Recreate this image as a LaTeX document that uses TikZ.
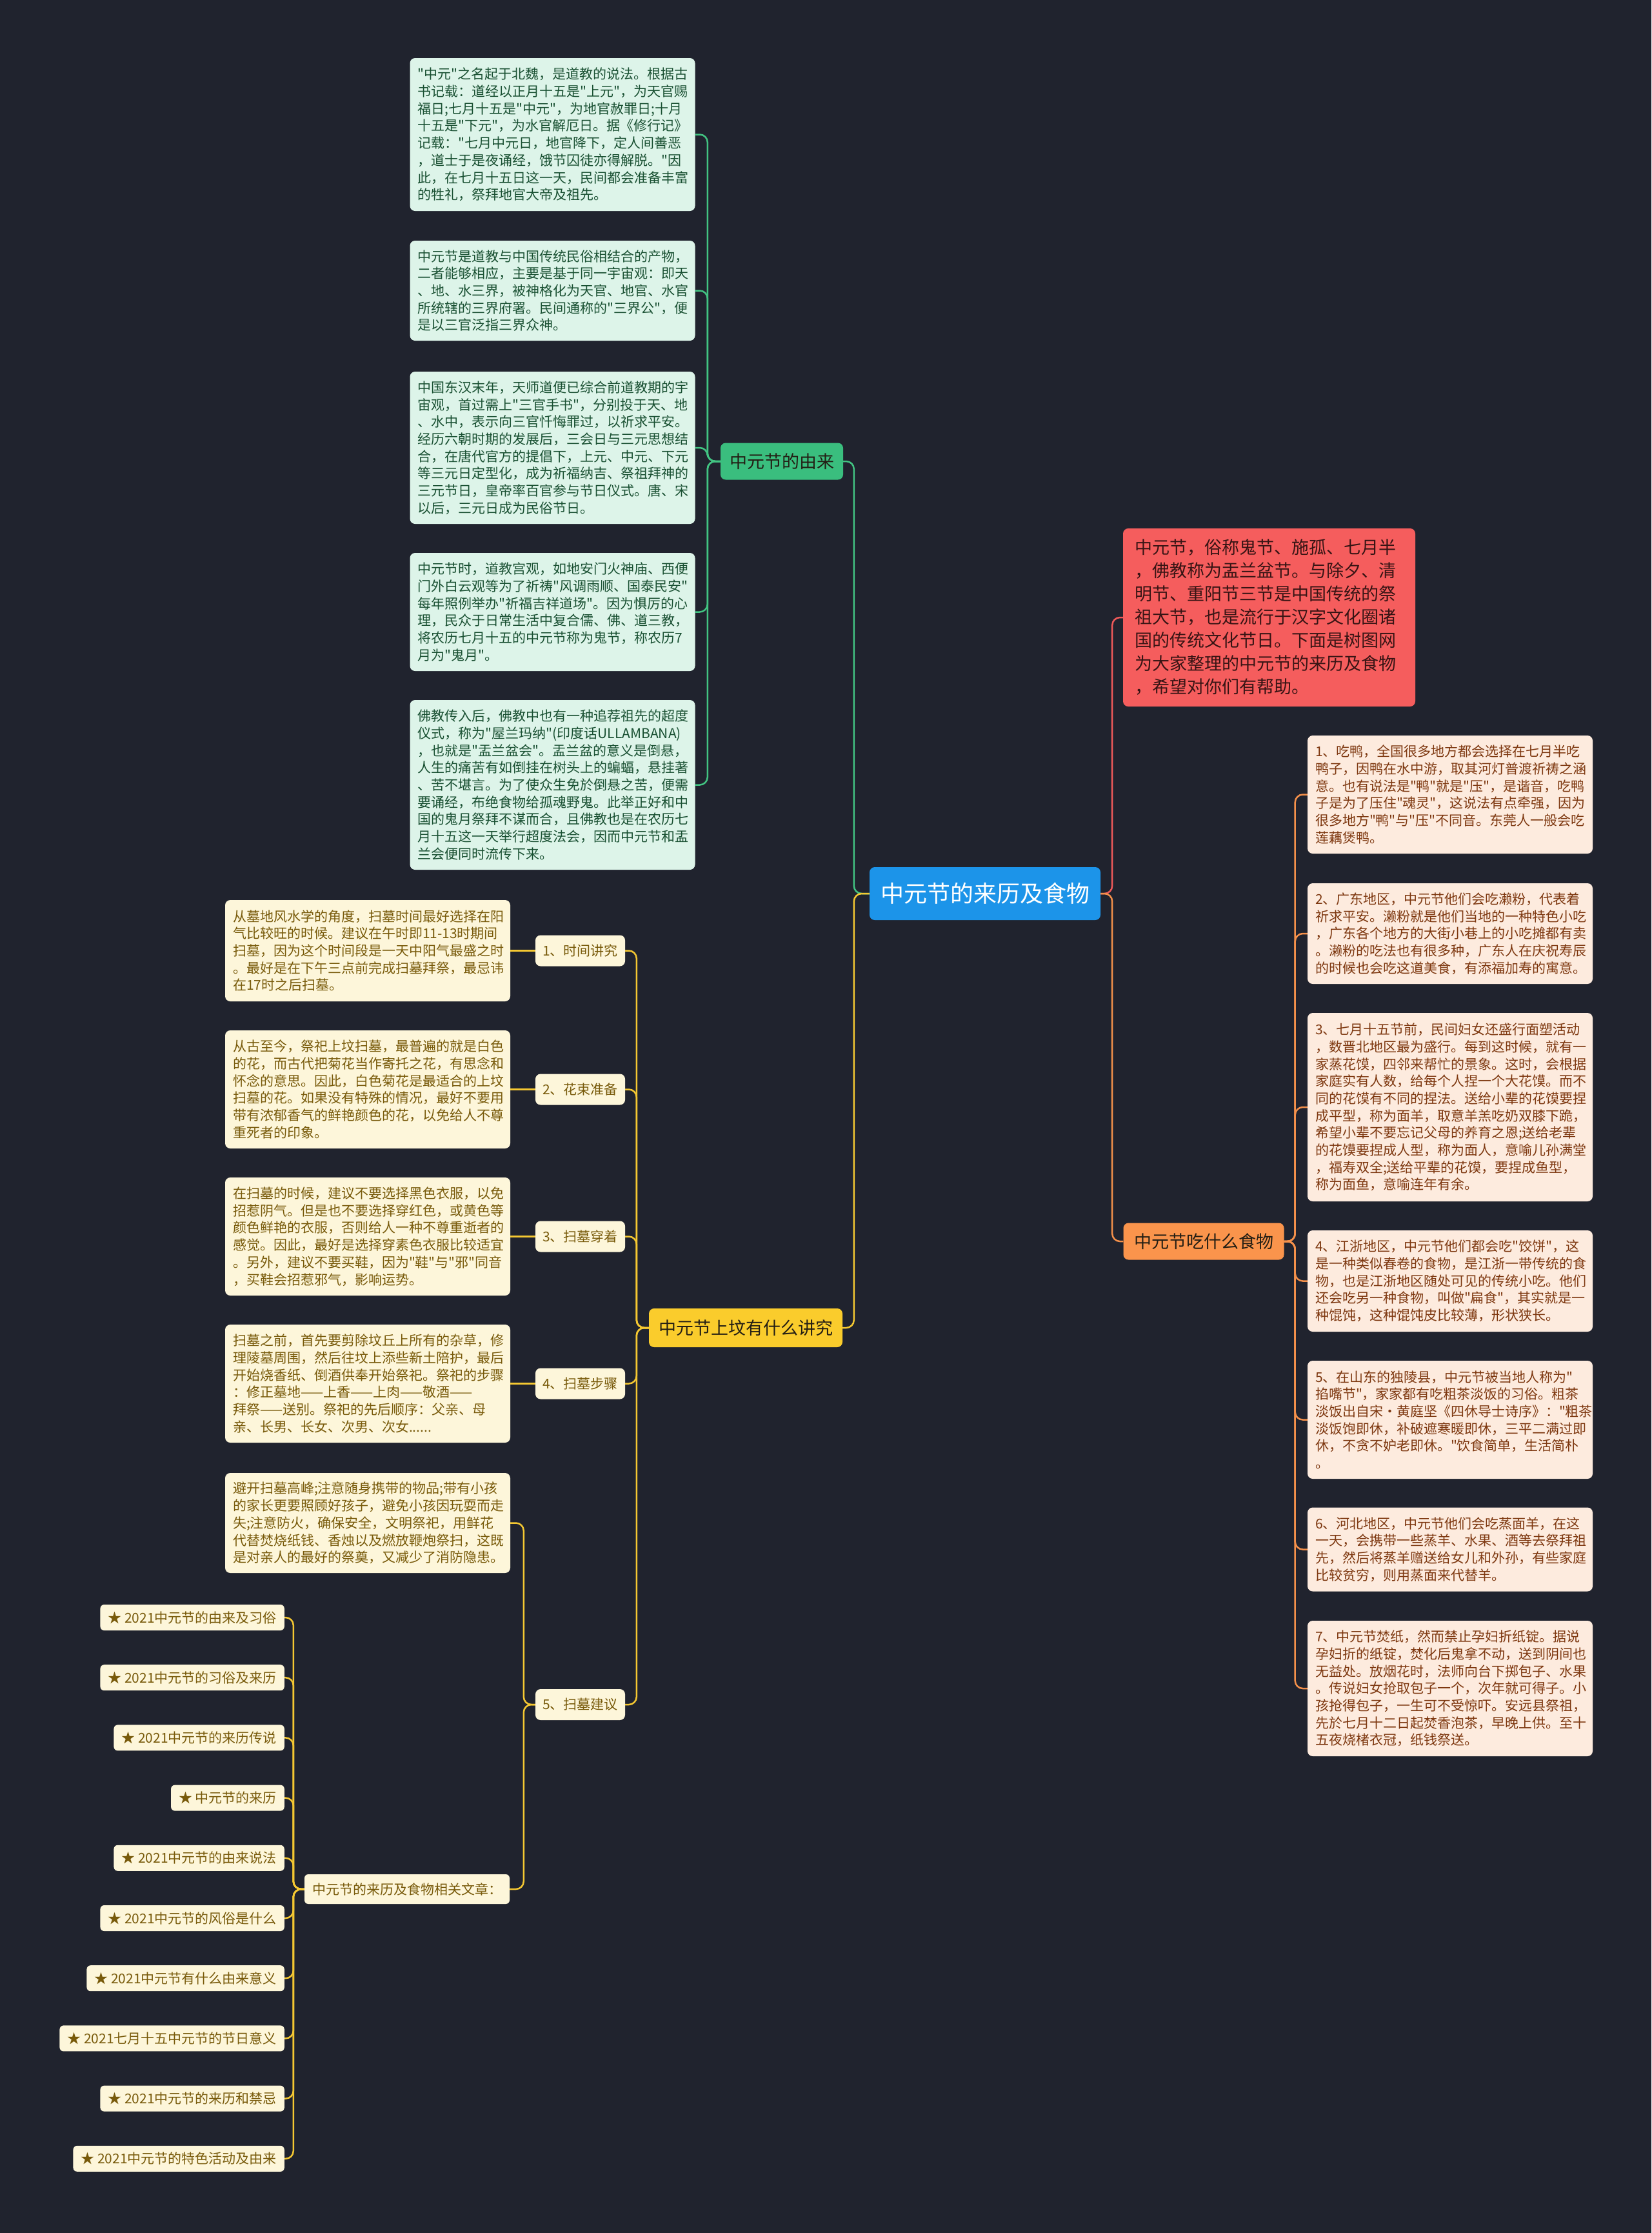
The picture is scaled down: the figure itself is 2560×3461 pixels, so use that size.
\documentclass[tikz,border=0pt]{standalone}
\usepackage{fontspec}
\setmainfont{Noto Sans CJK SC}[Ligatures=TeXOff]
\definecolor{bg}{RGB}{32,35,46}
\definecolor{rootfill}{RGB}{28,148,233}
\definecolor{gfill}{RGB}{58,190,126}
\definecolor{gconnc}{RGB}{66,196,130}
\definecolor{gleaffill}{RGB}{221,244,233}
\definecolor{gtext}{RGB}{25,80,50}
\definecolor{yfill}{RGB}{250,204,44}
\definecolor{yconnc}{RGB}{245,200,50}
\definecolor{yleaffill}{RGB}{253,246,218}
\definecolor{ytext}{RGB}{120,90,10}
\definecolor{rfill}{RGB}{245,93,93}
\definecolor{rconnc}{RGB}{240,90,90}
\definecolor{rtext}{RGB}{55,20,20}
\definecolor{ofill}{RGB}{250,148,76}
\definecolor{oconnc}{RGB}{245,145,75}
\definecolor{oleaffill}{RGB}{253,235,222}
\definecolor{otext}{RGB}{125,55,15}
\definecolor{darktext}{RGB}{35,30,20}
\tikzset{
  leafbase/.style={rounded corners=8pt, inner xsep=12pt, inner ysep=0pt, align=left, text width=418pt, font=\fontsize{21}{26.7}\selectfont},
  gleaf/.style={leafbase, fill=gleaffill, text=gtext},
  yleaf/.style={leafbase, fill=yleaffill, text=ytext},
  oleaf/.style={leafbase, fill=oleaffill, text=otext},
  branchbox/.style={rounded corners=8pt, inner sep=0pt, font=\fontsize{27}{32}\selectfont, text=darktext},
  ylabel/.style={rounded corners=8pt, fill=yleaffill, text=ytext, inner sep=0pt, minimum width=139pt, minimum height=48pt, font=\fontsize{21}{26.7}\selectfont},
  staritem/.style={rounded corners=6pt, fill=yleaffill, text=ytext, inner xsep=12pt, inner ysep=0pt, minimum height=40pt, anchor=east, font=\fontsize{21}{26.7}\selectfont},
  conn/.style={line width=2.5pt, rounded corners=12pt},
  gconn/.style={conn, draw=gconnc},
  yconn/.style={conn, draw=yconnc},
  rconn/.style={conn, draw=rconnc},
  oconn/.style={conn, draw=oconnc}
}
\begin{document}
\begin{tikzpicture}[x=1pt,y=-1pt]
\fill[bg] (0,0) rectangle (2560,3461);
\useasboundingbox (0,0) rectangle (2560,3461);

% root
\node[rounded corners=8pt, fill=rootfill, text=white, inner sep=0pt, minimum width=358pt, minimum height=82pt, font=\fontsize{36}{40}\selectfont] (root) at (1527,1385) {中元节的来历及食物};

% main branches
\node[branchbox, fill=gfill, minimum width=190pt, minimum height=57pt] (gb) at (1212,715) {中元节的由来};
\node[branchbox, fill=yfill, minimum width=300pt, minimum height=60pt] (yb) at (1156,2058) {中元节上坟有什么讲究};
\node[branchbox, fill=rfill, text=rtext, inner xsep=18pt, inner ysep=0pt, minimum height=276pt, text width=417pt, align=left, font=\fontsize{27}{36}\selectfont] (rb) at (1967.5,957) {中元节，俗称鬼节、施孤、七月半\\，佛教称为盂兰盆节。与除夕、清\\明节、重阳节三节是中国传统的祭\\祖大节，也是流行于汉字文化圈诸\\国的传统文化节日。下面是树图网\\为大家整理的中元节的来历及食物\\，希望对你们有帮助。};
\node[branchbox, fill=ofill, minimum width=249pt, minimum height=57pt] (ob) at (1866,1924) {中元节吃什么食物};

% green leaves
\node[gleaf, minimum height=237pt] (g1) at (856.5,208.5) {"中元"之名起于北魏，是道教的说法。根据古\\书记载：道经以正月十五是"上元"，为天官赐\\福日;七月十五是"中元"，为地官赦罪日;十月\\十五是"下元"，为水官解厄日。据《修行记》\\记载："七月中元日，地官降下，定人间善恶\\，道士于是夜诵经，饿节囚徒亦得解脱。"因\\此，在七月十五日这一天，民间都会准备丰富\\的牲礼，祭拜地官大帝及祖先。};
\node[gleaf, minimum height=155pt] (g2) at (856.5,450.5) {中元节是道教与中国传统民俗相结合的产物，\\二者能够相应，主要是基于同一宇宙观：即天\\、地、水三界，被神格化为天官、地官、水官\\所统辖的三界府署。民间通称的"三界公"，便\\是以三官泛指三界众神。};
\node[gleaf, minimum height=236pt] (g3) at (856.5,694) {中国东汉末年，天师道便已综合前道教期的宇\\宙观，首过需上"三官手书"，分别投于天、地\\、水中，表示向三官忏悔罪过，以祈求平安。\\经历六朝时期的发展后，三会日与三元思想结\\合，在唐代官方的提倡下，上元、中元、下元\\等三元日定型化，成为祈福纳吉、祭祖拜神的\\三元节日，皇帝率百官参与节日仪式。唐、宋\\以后，三元日成为民俗节日。};
\node[gleaf, minimum height=183pt] (g4) at (856.5,948.5) {中元节时，道教宫观，如地安门火神庙、西便\\门外白云观等为了祈祷"风调雨顺、国泰民安"\\每年照例举办"祈福吉祥道场"。因为惧厉的心\\理，民众于日常生活中复合儒、佛、道三教，\\将农历七月十五的中元节称为鬼节，称农历7\\月为"鬼月"。};
\node[gleaf, minimum height=263pt] (g5) at (856.5,1216.5) {佛教传入后，佛教中也有一种追荐祖先的超度\\仪式，称为"屋兰玛纳"(印度话ULLAMBANA)\\，也就是"盂兰盆会"。盂兰盆的意义是倒悬，\\人生的痛苦有如倒挂在树头上的蝙蝠，悬挂著\\、苦不堪言。为了使众生免於倒悬之苦，便需\\要诵经，布绝食物给孤魂野鬼。此举正好和中\\国的鬼月祭拜不谋而合，且佛教也是在农历七\\月十五这一天举行超度法会，因而中元节和盂\\兰会便同时流传下来。};

% yellow labels
\node[ylabel] (l1) at (899.5,1473.5) {1、时间讲究};
\node[ylabel] (l2) at (899.5,1688.5) {2、花束准备};
\node[ylabel] (l3) at (899.5,1916.5) {3、扫墓穿着};
\node[ylabel] (l4) at (899.5,2144.5) {4、扫墓步骤};
\node[ylabel] (l5) at (899.5,2642) {5、扫墓建议};

% yellow leaves
\node[yleaf, minimum height=157pt] (y1) at (570,1473.5) {从墓地风水学的角度，扫墓时间最好选择在阳\\气比较旺的时候。建议在午时即11-13时期间\\扫墓，因为这个时间段是一天中阳气最盛之时\\。最好是在下午三点前完成扫墓拜祭，最忌讳\\在17时之后扫墓。};
\node[yleaf, minimum height=183pt] (y2) at (570,1688.5) {从古至今，祭祀上坟扫墓，最普遍的就是白色\\的花，而古代把菊花当作寄托之花，有思念和\\怀念的意思。因此，白色菊花是最适合的上坟\\扫墓的花。如果没有特殊的情况，最好不要用\\带有浓郁香气的鲜艳颜色的花，以免给人不尊\\重死者的印象。};
\node[yleaf, minimum height=183pt] (y3) at (570,1916.5) {在扫墓的时候，建议不要选择黑色衣服，以免\\招惹阴气。但是也不要选择穿红色，或黄色等\\颜色鲜艳的衣服，否则给人一种不尊重逝者的\\感觉。因此，最好是选择穿素色衣服比较适宜\\。另外，建议不要买鞋，因为"鞋"与"邪"同音\\，买鞋会招惹邪气，影响运势。};
\node[yleaf, minimum height=183pt] (y4) at (570,2144.5) {扫墓之前，首先要剪除坟丘上所有的杂草，修\\理陵墓周围，然后往坟上添些新土陪护，最后\\开始烧香纸、倒酒供奉开始祭祀。祭祀的步骤\\：修正墓地——上香——上肉——敬酒——\\拜祭——送别。祭祀的先后顺序：父亲、母\\亲、长男、长女、次男、次女......};
\node[yleaf, minimum height=155pt] (y5) at (570,2360.5) {避开扫墓高峰;注意随身携带的物品;带有小孩\\的家长更要照顾好孩子，避免小孩因玩耍而走\\失;注意防火，确保安全，文明祭祀，用鲜花\\代替焚烧纸钱、香烛以及燃放鞭炮祭扫，这既\\是对亲人的最好的祭奠，又减少了消防隐患。};

% related articles
\node[rounded corners=6pt, fill=yleaffill, text=ytext, inner sep=0pt, minimum width=318pt, minimum height=46pt, font=\fontsize{21}{26.7}\selectfont] (rel) at (631,2928) {中元节的来历及食物相关文章：};
\node[staritem] (s1) at (441,2507) {★ 2021中元节的由来及习俗};
\node[staritem] (s2) at (441,2600.2) {★ 2021中元节的习俗及来历};
\node[staritem] (s3) at (441,2693.4) {★ 2021中元节的来历传说};
\node[staritem] (s4) at (441,2786.6) {★ 中元节的来历};
\node[staritem] (s5) at (441,2879.8) {★ 2021中元节的由来说法};
\node[staritem] (s6) at (441,2973) {★ 2021中元节的风俗是什么};
\node[staritem] (s7) at (441,3066.2) {★ 2021中元节有什么由来意义};
\node[staritem] (s8) at (441,3159.4) {★ 2021七月十五中元节的节日意义};
\node[staritem] (s9) at (441,3252.6) {★ 2021中元节的来历和禁忌};
\node[staritem] (s10) at (441,3345.8) {★ 2021中元节的特色活动及由来};

% orange leaves
\node[oleaf, minimum height=183pt] (o1) at (2248,1231.5) {1、吃鸭，全国很多地方都会选择在七月半吃\\鸭子，因鸭在水中游，取其河灯普渡祈祷之涵\\意。也有说法是"鸭"就是"压"，是谐音，吃鸭\\子是为了压住"魂灵"，这说法有点牵强，因为\\很多地方"鸭"与"压"不同音。东莞人一般会吃\\莲藕煲鸭。};
\node[oleaf, minimum height=156pt] (o2) at (2248,1447) {2、广东地区，中元节他们会吃濑粉，代表着\\祈求平安。濑粉就是他们当地的一种特色小吃\\，广东各个地方的大街小巷上的小吃摊都有卖\\。濑粉的吃法也有很多种，广东人在庆祝寿辰\\的时候也会吃这道美食，有添福加寿的寓意。};
\node[oleaf, minimum height=292pt] (o3) at (2248,1716) {3、七月十五节前，民间妇女还盛行面塑活动\\，数晋北地区最为盛行。每到这时候，就有一\\家蒸花馍，四邻来帮忙的景象。这时，会根据\\家庭实有人数，给每个人捏一个大花馍。而不\\同的花馍有不同的捏法。送给小辈的花馍要捏\\成平型，称为面羊，取意羊羔吃奶双膝下跪，\\希望小辈不要忘记父母的养育之恩;送给老辈\\的花馍要捏成人型，称为面人，意喻儿孙满堂\\，福寿双全;送给平辈的花馍，要捏成鱼型，\\称为面鱼，意喻连年有余。};
\node[oleaf, minimum height=157pt] (o4) at (2248,1985.5) {4、江浙地区，中元节他们都会吃"饺饼"，这\\是一种类似春卷的食物，是江浙一带传统的食\\物，也是江浙地区随处可见的传统小吃。他们\\还会吃另一种食物，叫做"扁食"，其实就是一\\种馄饨，这种馄饨皮比较薄，形状狭长。};
\node[oleaf, minimum height=183pt] (o5) at (2248,2200.5) {5、在山东的独陵县，中元节被当地人称为"\\掐嘴节"，家家都有吃粗茶淡饭的习俗。粗茶\\淡饭出自宋·黄庭坚《四休导士诗序》："粗茶\\淡饭饱即休，补破遮寒暖即休，三平二满过即\\休，不贪不妒老即休。"饮食简单，生活简朴\\。};
\node[oleaf, minimum height=130pt] (o6) at (2248,2401.5) {6、河北地区，中元节他们会吃蒸面羊，在这\\一天，会携带一些蒸羊、水果、酒等去祭拜祖\\先，然后将蒸羊赠送给女儿和外孙，有些家庭\\比较贫穷，则用蒸面来代替羊。};
\node[oleaf, minimum height=210pt] (o7) at (2248,2617) {7、中元节焚纸，然而禁止孕妇折纸锭。据说\\孕妇折的纸锭，焚化后鬼拿不动，送到阴间也\\无益处。放烟花时，法师向台下掷包子、水果\\。传说妇女抢取包子一个，次年就可得子。小\\孩抢得包子，一生可不受惊吓。安远县祭祖，\\先於七月十二日起焚香泡茶，早晚上供。至十\\五夜烧楮衣冠，纸钱祭送。};

% connectors: root
\draw[gconn] (root.west) -- ++(-24,0) |- (gb.east);
\draw[yconn] (root.west) -- ++(-24,0) |- (yb.east);
\draw[rconn] (root.east) -- ++(18,0) |- (rb.west);
\draw[oconn] (root.east) -- ++(18,0) |- (ob.west);

% green
\foreach \n in {g1,g2,g3,g4,g5}
  \draw[gconn] (gb.west) -- ++(-20,0) |- (\n.east);

% yellow
\foreach \n in {l1,l2,l3,l4,l5}
  \draw[yconn] (yb.west) -- ++(-19,0) |- (\n.east);
\draw[yconn] (l1.west) -- (y1.east);
\draw[yconn] (l2.west) -- (y2.east);
\draw[yconn] (l3.west) -- (y3.east);
\draw[yconn] (l4.west) -- (y4.east);
\draw[yconn] (l5.west) -- ++(-18,0) |- (y5.east);
\draw[yconn] (l5.west) -- ++(-18,0) |- (rel.east);
\foreach \n in {s1,s2,s3,s4,s5,s6,s7,s8,s9,s10}
  \draw[yconn] (rel.west) -- ++(-17,0) |- (\n.east);

% orange
\foreach \n in {o1,o2,o3,o4,o5,o6,o7}
  \draw[oconn] (ob.east) -- ++(17,0) |- (\n.west);
\end{tikzpicture}
\end{document}
